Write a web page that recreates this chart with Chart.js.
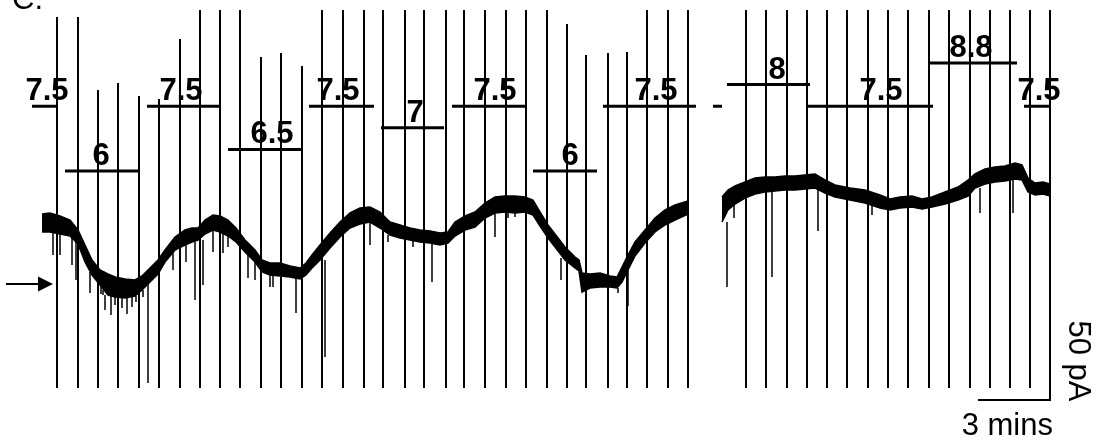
<!DOCTYPE html>
<html>
<head>
<meta charset="utf-8">
<script src="https://cdn.jsdelivr.net/npm/chart.js@4.4.1/dist/chart.umd.min.js"></script>
<style>
  html, body { margin: 0; padding: 0; background: #fff; overflow: hidden; }
  canvas { display: block; }
</style>
</head>
<body>
<canvas id="c" width="1105" height="444"></canvas>
<script>
// ---- Recording: holding current (pA) against time (s) ----

// Ramp artifacts: time of each voltage ramp and the clipped peak of its outward current
const rampTimes = [37.5, 90, 140, 190, 242.5, 292.5, 345, 395, 445, 495, 547.5, 597.5, 650,
  700, 752.5, 805, 852.5, 907.5, 955, 1010, 1055, 1107.5, 1160, 1210, 1262.5,
  1312.5, 1360, 1415, 1462.5, 1512.5, 1565, 1615,
  1760, 1810, 1862.5, 1912.5, 1962.5, 2012.5, 2065, 2115, 2165, 2217.5, 2267.5,
  2320, 2370, 2420, 2470, 2520];
const rampPeaks = [133.5, 133.5, 97, 100.5, 94, 92.5, 122.5, 137, 137, 137, 113.5, 115.5, 109,
  137, 137, 137, 137, 137, 137, 137, 137, 137, 137, 137, 137,
  130, 114.5, 115.5, 116, 137, 137, 137,
  137, 137, 137, 137, 137, 137, 137, 137, 137, 137, 137,
  137, 137, 137, 137, 137];
const rampTrough = -52;

// Holding current, first segment: upper and lower edge of the noisy band
const leftT = [0, 20, 45, 70, 90, 107.5, 125, 145, 165, 182.5, 207.5, 232.5, 250, 270, 290, 307.5,
  332.5, 357.5, 375, 390, 407.5, 427.5, 445, 465, 485, 507.5, 532.5, 550, 570, 595, 620, 645,
  660, 675, 695, 720, 745, 770, 795, 820, 845, 870, 895, 920, 945, 970, 995, 1015, 1032.5,
  1057.5, 1082.5, 1107.5, 1132.5, 1157.5, 1182.5, 1207.5, 1227.5, 1245, 1265, 1282.5, 1307.5,
  1332.5, 1342.5, 1350, 1370, 1395, 1420, 1437.5, 1450, 1465, 1482.5, 1507.5, 1532.5, 1557.5,
  1582.5, 1615];
const leftHi = [35, 35.5, 34, 32, 27, 19.5, 12, 7, 5, 3.5, 2.5, 2, 4, 8, 12, 17,
  23.5, 27, 28, 28, 32, 34.5, 34, 32, 28, 22, 17, 12, 10.5, 10.5, 9, 8,
  10.5, 14.5, 19.5, 25.5, 31, 35.5, 38, 38.5, 36, 31, 29.5, 28, 27, 26.5, 25.5, 26, 31,
  34, 36, 40.5, 43.5, 44, 44, 43.5, 42, 36, 29.5, 25, 18.5,
  13.5, 12, 5.5, 5, 5.5, 4, 3.5, 8.5, 14.5, 21, 27, 33, 37,
  39.5, 41.5];
const leftLo = [26, 26, 25, 24, 20, 11, 4.5, -0.5, -5.5, -6.5, -7, -6, -3, 1, 5, 11,
  17, 19.5, 21, 22, 25, 27, 26, 24, 21, 16, 11, 6, 4.5, 4, 3.5, 2.5,
  4.5, 8, 12, 18, 23.5, 28, 30, 31, 28, 24.5, 23, 22, 21, 20.5, 19.5, 20.5, 24,
  27, 28.5, 33, 35.5, 36, 35.5, 36, 34.5, 29, 23, 18.5, 12,
  8, 6.5, -4, -2, -1.5, -1.5, -2, 1, 7, 14, 20.5, 26, 29.5,
  32, 35];

// Holding current, second segment
const rightT = [1700, 1715, 1732.5, 1757.5, 1782.5, 1807.5, 1832.5, 1857.5, 1882.5, 1907.5, 1932.5,
  1957.5, 1982.5, 2020, 2057.5, 2095, 2120, 2145, 2175, 2200, 2225, 2257.5, 2290, 2315, 2332.5,
  2357.5, 2382.5, 2407.5, 2432.5, 2450, 2465, 2482.5, 2502.5, 2520];
const rightHi = [43.5, 47, 49, 51, 53, 53.5, 53.5, 54, 54, 54.5, 55,
  52, 49.5, 48, 47, 44.5, 42.5, 43.5, 44, 42.5, 43.5, 46, 48.5, 52, 55,
  57.5, 58.5, 59, 60.5, 59.5, 53, 50.5, 51, 50];
const rightLo = [31, 37, 40, 43, 45, 46, 46.5, 47, 47, 47.5, 48,
  45.5, 43.5, 42, 40.5, 38, 37, 38, 38.5, 37.5, 38.5, 40, 42, 44, 48,
  50, 51, 51.5, 52.5, 52, 46, 44.5, 45, 44];

// Spontaneous inward events: time, start and tip current
const eventT = [27.5, 45, 75, 85, 120, 147.5, 152.5, 157.5, 172.5, 182.5, 200, 212.5, 225, 235,
  252.5, 265, 327.5, 360, 382.5, 402.5, 427.5, 452.5, 465, 515, 532.5, 570, 577.5, 635, 707.5,
  820, 865, 927.5, 975, 1132.5, 1165, 1182.5, 1297.5, 1440, 1465,
  1712.5, 1730, 1825, 1940, 2075, 2345, 2427.5];
const eventFrom = [26, 25, 24, 22, 6, -0.5, -3, -5.5, -5.5, -6.5, -6, -7, -6, -6,
  -3, 1, 17, 19.5, 21, 22, 27, 26, 24, 16, 11, 4.5, 4.5, 3.5, 12,
  31, 24.5, 22, 20.5, 35.5, 36, 35.5, 13, -2, 7,
  31, 40, 46, 48, 40, 48, 52];
const eventTo = [14.5, 14.5, 9.5, 2, -4.5, -5, -5.5, -13, -15.5, -10.5, -12, -15, -11.5, -9,
  -6.5, -49.5, 7, 11, -8, -0.5, 16, 15.5, 18.5, 3, 2, -1.5, -1.5, -14.5, -36.5,
  19.5, 21, 18.5, 1, 23.5, 33, 33.5, 2, -4.5, -11,
  -1.5, 33, 3.5, 26.5, 34.5, 35.5, 35.5];

// Bath pH applications
const phLevels = [8.8, 8, 7.5, 7, 6.5, 6];
const phSteps = [7.5, 6, 7.5, 6.5, 7.5, 7, 7.5, 6, 7.5, 7.5, 8, 7.5, 8.8, 7.5];
const phStart = [-25, 57.5, 262.5, 465, 667.5, 847.5, 1025, 1227.5, 1402.5, 1677.5, 1712.5, 1912.5, 2220, 2455];
const phEnd = [37.5, 242.5, 445, 650, 830, 1005, 1210, 1387.5, 1635, 1700, 1920, 2227.5, 2437.5, 2522.5];
// where each pH value is written (null: segment left unlabelled)
const phLabelAt = [12.5, 147.5, 347.5, 575, 740, 932.5, 1132.5, 1320, 1535, null, 1837.5, 2097.5, 2322.5, 2492.5];

// Reference level marked by the arrow, and the scale bar
const arrowLevel = 0;
const arrowFrom = -90, arrowTo = 27.5;
const scaleBarEnd = 2520, scaleBarSeconds = 180, scaleBarPA = 50, scaleBarBase = -58;

// ---- build datasets ----
const pts = (ts, vs) => ts.map((t, i) => ({ x: t, y: vs[i] }));
const segs = (list) => list.flatMap(([t0, v0, t1, v1]) => [{ x: t0, y: v0 }, { x: t1, y: v1 }, { x: t1, y: null }]);

const rampData = segs(rampTimes.map((t, i) => [t, rampTrough, t, rampPeaks[i]]));
const eventData = segs(eventT.map((t, i) => [t, eventFrom[i], t, eventTo[i]]));
const phData = segs(phSteps.map((v, i) => [phStart[i], phLevels.indexOf(v), phEnd[i], phLevels.indexOf(v)]));

const FONT = '"Liberation Sans", Arial, Helvetica, sans-serif';
Chart.defaults.font.family = FONT;

const black = '#000';
const lineDs = (data, width, extra) => Object.assign({
  data, borderColor: black, borderWidth: width, pointRadius: 0, spanGaps: false,
  tension: 0, fill: false, borderCapStyle: 'butt'
}, extra || {});

const whiteBg = {
  id: 'whiteBg',
  beforeDraw(chart) {
    const { ctx, width, height } = chart;
    ctx.save();
    ctx.fillStyle = '#fff';
    ctx.fillRect(0, 0, width, height);
    ctx.restore();
  }
};

const annotate = {
  id: 'annotate',
  afterDatasetsDraw(chart) {
    const { ctx } = chart;
    const { x, y, lvl } = chart.scales;
    ctx.save();
    ctx.fillStyle = black;
    ctx.strokeStyle = black;

    // panel letter
    ctx.font = '31px ' + FONT;
    ctx.textAlign = 'left';
    ctx.textBaseline = 'alphabetic';
    ctx.fillText('C.', 12, 9);

    // pH labels above each application bar
    ctx.font = 'bold 31px ' + FONT;
    ctx.textAlign = 'center';
    phSteps.forEach((v, i) => {
      if (phLabelAt[i] === null) return;
      const cx = x.getPixelForValue(phLabelAt[i]);
      const cy = lvl.getPixelForValue(phLevels.indexOf(v)) - 6;
      ctx.fillText(String(v), cx, cy);
    });

    // arrow marking the reference current
    const ay = y.getPixelForValue(arrowLevel);
    const ax0 = x.getPixelForValue(arrowFrom), ax1 = x.getPixelForValue(arrowTo);
    ctx.lineWidth = 2;
    ctx.beginPath();
    ctx.moveTo(ax0, ay);
    ctx.lineTo(ax1 - 14, ay);
    ctx.stroke();
    ctx.beginPath();
    ctx.moveTo(ax1, ay);
    ctx.lineTo(ax1 - 15, ay - 7.5);
    ctx.lineTo(ax1 - 15, ay + 7.5);
    ctx.closePath();
    ctx.fill();

    // scale bar
    const sx1 = x.getPixelForValue(scaleBarEnd);
    const sx0 = x.getPixelForValue(scaleBarEnd - scaleBarSeconds);
    const sy0 = y.getPixelForValue(scaleBarBase);
    const sy1 = y.getPixelForValue(scaleBarBase + scaleBarPA);
    ctx.lineWidth = 2;
    ctx.beginPath();
    ctx.moveTo(sx0, sy0);
    ctx.lineTo(sx1, sy0);
    ctx.lineTo(sx1, sy1);
    ctx.stroke();

    ctx.font = '31px ' + FONT;
    ctx.textAlign = 'right';
    ctx.fillText('3 mins', sx1 + 3, sy0 + 35);

    ctx.save();
    ctx.translate(sx1 + 19, sy0 - 39);
    ctx.rotate(Math.PI / 2);
    ctx.textAlign = 'center';
    ctx.fillText('50 pA', 0, 0);
    ctx.restore();

    ctx.restore();
  }
};

new Chart(document.getElementById('c'), {
  type: 'line',
  data: {
    datasets: [
      lineDs(rampData, 2),
      lineDs(pts(leftT, leftHi), 1.5),
      lineDs(pts(leftT, leftLo), 1.5, { fill: '-1', backgroundColor: black }),
      lineDs(pts(rightT, rightHi), 1.5),
      lineDs(pts(rightT, rightLo), 1.5, { fill: '-1', backgroundColor: black }),
      lineDs(eventData, 1.5),
      lineDs(phData, 3, { yAxisID: 'lvl' })
    ]
  },
  options: {
    responsive: false,
    devicePixelRatio: 1,
    animation: false,
    events: [],
    layout: { padding: 0 },
    plugins: { legend: { display: false }, tooltip: { enabled: false } },
    scales: {
      x: { type: 'linear', display: false, min: -105, max: 2657.5 },
      y: { type: 'linear', display: false, min: -80, max: 142 },
      lvl: { type: 'linear', display: false, reverse: true, min: -2.9167, max: 17.639 }
    }
  },
  plugins: [whiteBg, annotate]
});
</script>
</body>
</html>
